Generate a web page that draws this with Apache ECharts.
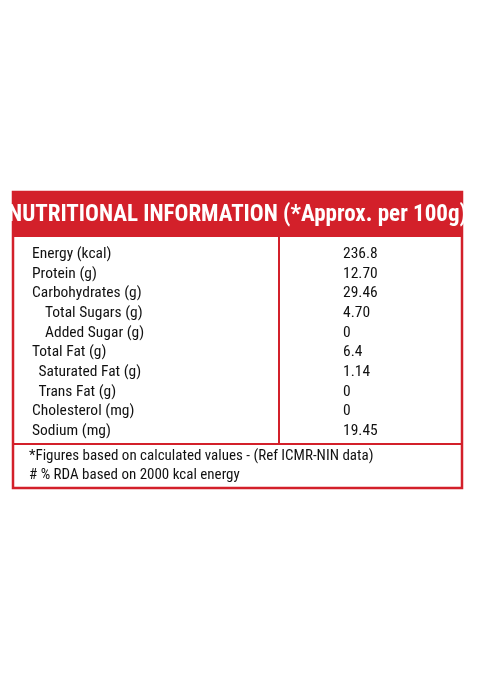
<!DOCTYPE html>
<html><head><meta charset="utf-8">
<script src="https://cdn.jsdelivr.net/npm/echarts@6/dist/echarts.min.js"></script>
<style>html,body{margin:0;padding:0;background:#fff}#c{width:477px;height:681px}</style>
</head><body><div id="c"></div>
<script>
const title = 'NUTRITIONAL INFORMATION (*Approx. per 100g)';
const nutrients = ['Energy (kcal)','Protein (g)','Carbohydrates (g)','Total Sugars (g)','Added Sugar (g)','Total Fat (g)','Saturated Fat (g)','Trans Fat (g)','Cholesterol (mg)','Sodium (mg)'];
const amounts = ['236.8','12.70','29.46','4.70','0','6.4','1.14','0','0','19.45'];
const indentLevel = [0,0,0,2,2,0,1,1,0,0];
const footnotes = ['*Figures based on calculated values - (Ref ICMR-NIN data)','# % RDA based on 2000 kcal energy'];

const red = '#d3202a';
const font = '"Liberation Sans Narrow", "Roboto Condensed", "DejaVu Sans Condensed", sans-serif';
const L = 13, R = 462, T = 192, B = 488, HB = 237, VX = 279, FY = 444;
const g = [];
g.push({type:'rect', shape:{x:L,y:T,width:R-L,height:B-T}, style:{fill:'#fff',stroke:red,lineWidth:2.5}});
g.push({type:'rect', shape:{x:L,y:T,width:R-L,height:HB-T}, style:{fill:red}});
g.push({type:'text', x:(L+R)/2, y:(T+HB)/2+1, style:{text:title, fill:'#fff', font:'bold 23px '+font, align:'center', verticalAlign:'middle'}});
g.push({type:'line', shape:{x1:VX,y1:HB,x2:VX,y2:FY}, style:{stroke:red,lineWidth:2}});
g.push({type:'line', shape:{x1:L,y1:FY,x2:R,y2:FY}, style:{stroke:red,lineWidth:2}});
nutrients.forEach((n,i)=>{
  const y = 254 + i*19.7;
  g.push({type:'text', x:32 + indentLevel[i]*6.5, y:y, style:{text:n, fill:'#111', font:'15.5px '+font, verticalAlign:'middle'}});
  g.push({type:'text', x:343, y:y, style:{text:amounts[i], fill:'#111', font:'15.5px '+font, verticalAlign:'middle'}});
});
footnotes.forEach((f,i)=>{
  g.push({type:'text', x:29, y:456+i*19.5, style:{text:f, fill:'#111', font:'15px '+font, verticalAlign:'middle'}});
});
const chart = echarts.init(document.getElementById('c'));
chart.setOption({graphic:{elements:g}});
</script></body></html>
